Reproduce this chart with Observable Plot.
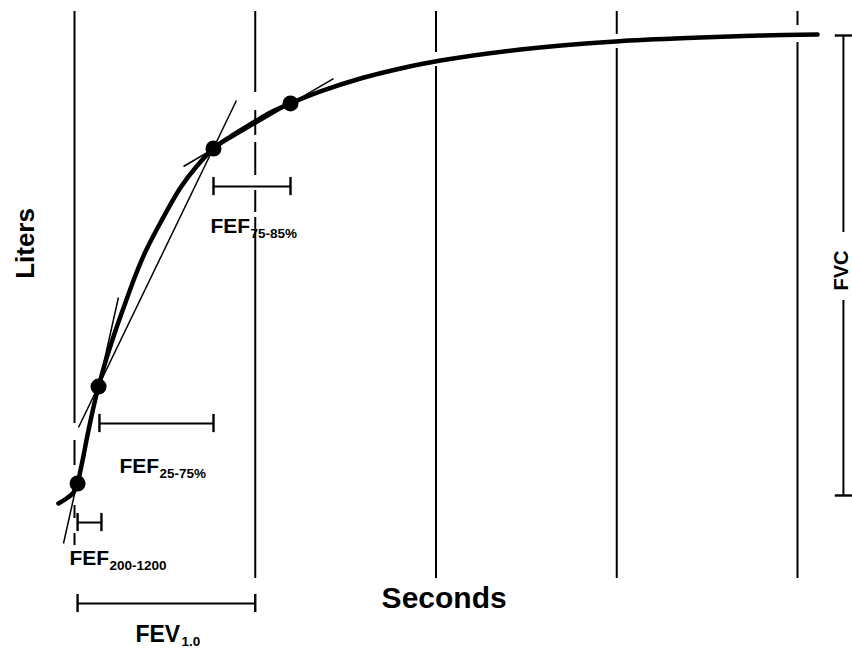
<!DOCTYPE html>
<html>
<head>
<meta charset="utf-8">
<script src="https://cdn.jsdelivr.net/npm/d3@7"></script>
<script src="https://cdn.jsdelivr.net/npm/@observablehq/plot@0.6"></script>
<style>
  html, body { margin: 0; padding: 0; background: #fff; overflow: hidden; }
</style>
</head>
<body>
<div id="chart"></div>
<script>
// Spirometry curve (time in seconds, volume in liters)
const curveSeconds = [-0.089,-0.044,-0.006,0.017,0.033,0.050,0.066,0.089,0.111,0.133,0.177,0.227,0.282,0.337,0.393,0.476,0.587,0.675,0.769,0.863,0.990,1.084,1.195,1.361,1.582,1.804,2.025,2.467,2.993,3.463,3.795,4.111];
const curveLiters  = [-0.083,-0.031,0.031,0.125,0.261,0.417,0.574,0.783,0.970,1.137,1.430,1.722,2.014,2.296,2.546,2.849,3.214,3.433,3.621,3.746,3.892,3.996,4.091,4.216,4.351,4.456,4.539,4.654,4.738,4.779,4.800,4.810];

// Measurement points on the curve
const pointSeconds = [0.017, 0.133, 0.769, 1.195];
const pointLiters  = [0.125, 1.137, 3.621, 4.091];

// Thin chords through the measurement points (extended)
const chordStartSec = [-0.061, 0.022, 0.603];
const chordStartLit = [-0.501, 0.710, 3.433];
const chordEndSec   = [0.243, 0.896, 1.433];
const chordEndLit   = [2.066, 4.122, 4.351];

// Vertical time lines (seconds) as segments
const gridSeconds = [0,0,0,0, 1,1,1,1,1, 2,2, 3,3, 4,4];
const gridTop     = [5.051,0.574,-0.104,-0.397, 5.051,4.018,3.684,3.183,2.901, 5.051,4.477, 5.051,4.665, 5.051,4.727];
const gridBottom  = [0.751,0.313,-0.240,-0.522, 4.205,3.757,3.339,2.953,-0.866, 4.623,-0.866, 4.811,-0.866, 4.904,-0.866];

// Interval brackets
const bracketStart = [0.017, 0.138, 0.769, 0.017];
const bracketEnd   = [0.149, 0.769, 1.195, 1.0];
const bracketLevel = [-0.282, 0.751, 3.224, -1.127];

// Bracket labels
const labelMain    = ["FEF", "FEF", "FEF", "FEV"];
const labelSub     = ["200-1200", "25-75%", "75-85%", "1.0"];
const labelSeconds = [-0.028, 0.249, 0.752, 0.337];
const labelLiters  = [-0.730, 0.240, 2.734, -1.530];

// FVC bracket
const fvcSeconds = 4.254;
const fvcLow = 0, fvcHigh = 4.8;
const fvcGap = [2.035, 2.744];
const fvcLabelSeconds = 4.243;
const fvcLabelLiters = 2.348;

// Axis titles
const xTitle = "Seconds", xTitleSeconds = 2.045, xTitleLiters = -1.179;
const yTitle = "Liters",  yTitleSeconds = -0.271, yTitleLiters = 2.630;

// ---- build tables ----
const curve = curveSeconds.map((s, i) => ({s, v: curveLiters[i]}));
const points = pointSeconds.map((s, i) => ({s, v: pointLiters[i]}));
const chords = chordStartSec.map((s, i) => ({x1: s, y1: chordStartLit[i], x2: chordEndSec[i], y2: chordEndLit[i]}));
const grid = gridSeconds.map((s, i) => ({s, top: gridTop[i], bottom: gridBottom[i]}));
const brackets = bracketStart.map((a, i) => ({a, b: bracketEnd[i], y: bracketLevel[i]}));
const bracketEnds = brackets.flatMap(d => [{x: d.a, y: d.y}, {x: d.b, y: d.y}]);
const labels = labelMain.map((m, i) => ({main: m, sub: labelSub[i], s: labelSeconds[i], v: labelLiters[i]}));
const fvcSegs = [{y1: fvcLow, y2: fvcGap[0]}, {y1: fvcGap[1], y2: fvcHigh}];
const fvcTicks = [fvcLow, fvcHigh];

const font = "'Liberation Sans', Arial, Helvetica, sans-serif";
const tickHalf = 0.095;   // bracket tick half-height in liters
const fvcTickL = 0.045, fvcTickR = 0.05;

const chart = Plot.plot({
  width: 852,
  height: 648,
  marginTop: 35,
  marginBottom: 153,
  marginLeft: 74,
  marginRight: 55,
  x: {domain: [0, 4], axis: null},
  y: {domain: [0, 4.8], axis: null},
  style: {background: "white", fontFamily: font, color: "black"},
  marks: [
    // vertical time lines
    Plot.ruleX(grid, {x: "s", y1: "bottom", y2: "top", stroke: "black", strokeWidth: 2}),
    // chords
    Plot.link(chords, {x1: "x1", y1: "y1", x2: "x2", y2: "y2", stroke: "black", strokeWidth: 1.5}),
    // curve
    Plot.line(curve, {x: "s", y: "v", stroke: "black", strokeWidth: 4.5, curve: "catmull-rom", strokeLinecap: "round", strokeLinejoin: "round"}),
    // points
    Plot.dot(points, {x: "s", y: "v", r: 8, fill: "black", stroke: "none"}),
    // brackets
    Plot.ruleY(brackets, {y: "y", x1: "a", x2: "b", stroke: "black", strokeWidth: 2}),
    Plot.ruleX(bracketEnds, {x: "x", y1: d => d.y - tickHalf, y2: d => d.y + tickHalf, stroke: "black", strokeWidth: 2.4}),
    // FVC bracket
    Plot.ruleX(fvcSegs, {x: () => fvcSeconds, y1: "y1", y2: "y2", stroke: "black", strokeWidth: 2}),
    Plot.ruleY(fvcTicks, {y: d => d, x1: () => fvcSeconds - fvcTickL, x2: () => fvcSeconds + fvcTickR, stroke: "black", strokeWidth: 2.4}),
    Plot.text(["FVC"], {x: () => fvcLabelSeconds, y: () => fvcLabelLiters, text: d => d, rotate: -90, fontSize: 20, fontWeight: "bold", fill: "black"}),
    // bracket labels: main part and subscript
    Plot.text(labels.filter(d => d.main === "FEF"), {x: "s", y: "v", text: "main", textAnchor: "start", lineAnchor: "bottom", fontSize: 21, fontWeight: "bold", fill: "black"}),
    Plot.text(labels.filter(d => d.main === "FEF"), {x: "s", y: "v", text: "sub", textAnchor: "start", lineAnchor: "bottom", dx: 40, dy: 5, fontSize: 13.5, fontWeight: "bold", fill: "black"}),
    Plot.text(labels.filter(d => d.main === "FEV"), {x: "s", y: "v", text: "main", textAnchor: "start", lineAnchor: "bottom", fontSize: 23, fontWeight: "bold", fill: "black"}),
    Plot.text(labels.filter(d => d.main === "FEV"), {x: "s", y: "v", text: "sub", textAnchor: "start", lineAnchor: "bottom", dx: 46, dy: 4, fontSize: 13.5, fontWeight: "bold", fill: "black"}),
    // axis titles
    Plot.text([xTitle], {x: () => xTitleSeconds, y: () => xTitleLiters, text: d => d, textAnchor: "middle", lineAnchor: "bottom", fontSize: 30, fontWeight: "bold", fill: "black"}),
    Plot.text([yTitle], {x: () => yTitleSeconds, y: () => yTitleLiters, text: d => d, rotate: -90, fontSize: 26, fontWeight: "bold", fill: "black"})
  ]
});
document.getElementById("chart").appendChild(chart);
</script>
</body>
</html>
